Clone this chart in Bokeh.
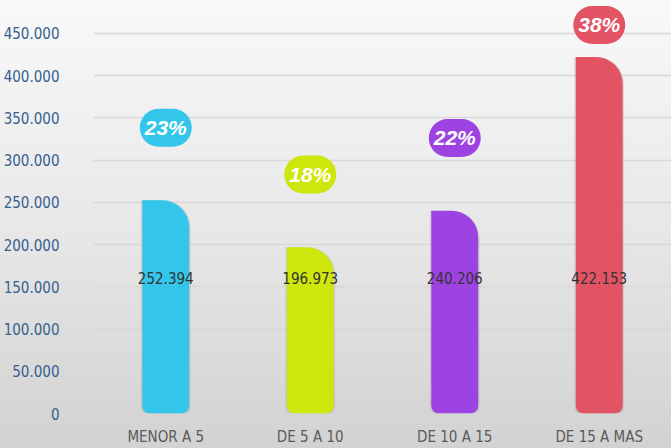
from bokeh.plotting import figure
from bokeh.models import ColumnDataSource, FixedTicker, FactorRange, Range1d
from bokeh.core.properties import value
from bokeh.embed import file_html
from bokeh.resources import INLINE

# ---- data ----
categories = ["MENOR A 5", "DE 5 A 10", "DE 10 A 15", "DE 15 A MAS"]
values = [252394, 196973, 240206, 422153]
percent_labels = ["23%", "18%", "22%", "38%"]
colors = ["#33c6ea", "#cde60b", "#9d43e2", "#e25363"]
y_ticks = [0, 50000, 100000, 150000, 200000, 250000, 300000, 350000, 400000, 450000]
y_tick_labels = ["0", "50.000", "100.000", "150.000", "200.000", "250.000",
                 "300.000", "350.000", "400.000", "450.000"]

value_labels = [f"{v:,}".replace(",", ".") for v in values]
bubble_y = [min(v + 86000, 460000) for v in values]
inner_y = [160000 for _ in values]

NARROW = "'DejaVu Sans Condensed', 'Liberation Sans Narrow', Roboto, sans-serif"

src = ColumnDataSource(dict(cat=categories, val=values, color=colors,
                            pct=percent_labels, vlab=value_labels,
                            by=bubble_y, iy=inner_y))

p = figure(x_range=FactorRange(*categories), y_range=Range1d(0, 489000),
           width=671, height=448, output_backend="svg", toolbar_location=None,
           min_border_left=92, min_border_right=0, min_border_top=0, min_border_bottom=35)
p.background_fill_alpha = 0
p.border_fill_alpha = 0
p.outline_line_color = None
p.styles = {"background": "linear-gradient(180deg, #f9f9f9 0%, #e8e8e8 50%, #d2d2d2 100%)"}

# shadows
p.vbar(x="cat", top="val", width=0.345, bottom=0, source=src, fill_color="#8a8a8a",
       fill_alpha=0.22, line_color=None, border_radius=(0, 27, 6, 6))
p.vbar(x="cat", top="val", width=0.325, bottom=0, source=src, fill_color="color",
       line_color=None, border_radius=(0, 27, 8, 8))

p.text(x="cat", y="iy", text="vlab", source=src, text_align="center",
       text_baseline="middle", text_font=value(NARROW),
       text_font_size="15px", text_color="#333333")

p.rect(x="cat", y="by", width=52, height=38, width_units="screen", height_units="screen",
       source=src, fill_color="color", line_color=None, border_radius=19)
p.text(x="cat", y="by", text="pct", source=src, text_align="center",
       text_baseline="middle", text_font=value("Liberation Sans"),
       text_font_style="bold italic", text_font_size="21px", text_color="white")

p.xgrid.grid_line_color = None
p.ygrid.grid_line_color = "#d8d8d8"
p.ygrid.grid_line_width = 1.5

p.yaxis.ticker = FixedTicker(ticks=y_ticks)
p.yaxis.major_label_overrides = {t: l for t, l in zip(y_ticks, y_tick_labels)}
p.yaxis.axis_line_color = None
p.yaxis.major_tick_line_color = None
p.yaxis.major_tick_out = 0
p.yaxis.minor_tick_line_color = None
p.yaxis.major_label_standoff = 34
p.yaxis.major_label_text_font = NARROW
p.yaxis.major_label_text_font_size = "15px"
p.yaxis.major_label_text_color = "#35608f"

p.xaxis.axis_line_color = None
p.xaxis.major_tick_line_color = None
p.xaxis.major_tick_out = 0
p.xaxis.major_label_standoff = 14
p.xaxis.major_label_text_font = NARROW
p.xaxis.major_label_text_font_size = "15px"
p.xaxis.major_label_text_color = "#5a5a5a"

html = file_html(p, INLINE)
html = html.replace("</head>", "<style>html,body{margin:0;padding:0;overflow:hidden;}</style></head>", 1)
open("out.html", "w").write(html)
